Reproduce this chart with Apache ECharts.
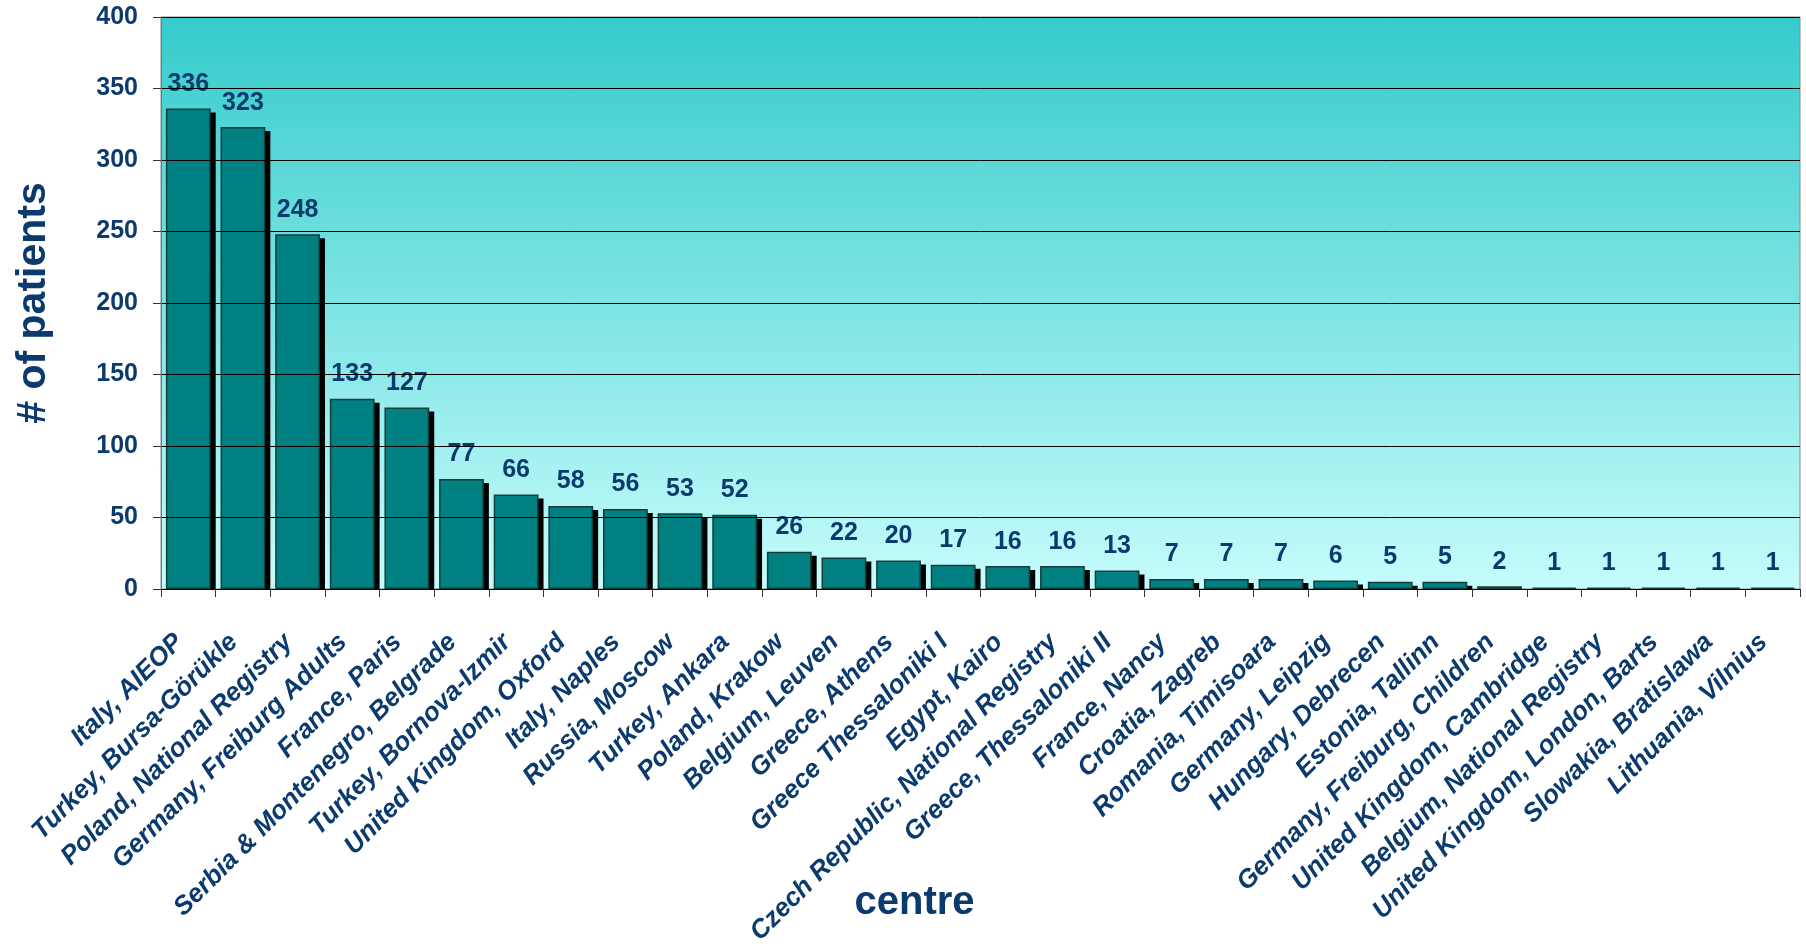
<!DOCTYPE html>
<html>
<head>
<meta charset="utf-8">
<script src="https://cdn.jsdelivr.net/npm/echarts@6/dist/echarts.min.js"></script>
<style>
html,body{margin:0;padding:0;background:#fff;}
#chart{width:1806px;height:948px;}
</style>
</head>
<body>
<div id="chart"></div>
<script>
const categories = [
  'Italy, AIEOP',
  'Turkey, Bursa-Görükle',
  'Poland, National Registry',
  'Germany, Freiburg Adults',
  'France, Paris',
  'Serbia & Montenegro, Belgrade',
  'Turkey, Bornova-Izmir',
  'United Kingdom, Oxford',
  'Italy, Naples',
  'Russia, Moscow',
  'Turkey, Ankara',
  'Poland, Krakow',
  'Belgium, Leuven',
  'Greece, Athens',
  'Greece Thessaloniki I',
  'Egypt, Kairo',
  'Czech Republic, National Registry',
  'Greece, Thessaloniki II',
  'France, Nancy',
  'Croatia, Zagreb',
  'Romania, Timisoara',
  'Germany, Leipzig',
  'Hungary, Debrecen',
  'Estonia, Tallinn',
  'Germany, Freiburg, Children',
  'United Kingdom, Cambridge',
  'Belgium, National Registry',
  'United Kingdom, London, Barts',
  'Slowakia, Bratislawa',
  'Lithuania, Vilnius'
];
const patients = [336, 323, 248, 133, 127, 77, 66, 58, 56, 53, 52, 26, 22, 20, 17, 16, 16, 13, 7, 7, 7, 6, 5, 5, 2, 1, 1, 1, 1, 1];
const yTicks = [0, 50, 100, 150, 200, 250, 300, 350, 400];

const navy = '#0b3a6e';
const font = "'Liberation Sans', Arial, sans-serif";
const BAR_RATIO = 0.82;

const chart = echarts.init(document.getElementById('chart'), null, {renderer: 'canvas'});
chart.setOption({
  animation: false,
  grid: {
    left: 161, right: 6, top: 17, bottom: 359,
    outerBoundsMode: 'none',
    containLabel: false,
    show: true,
    borderColor: '#8a8a8a',
    borderWidth: 1,
    backgroundColor: {
      type: 'linear', x: 0, y: 0, x2: 0, y2: 1,
      colorStops: [
        {offset: 0, color: '#35cbcb'},
        {offset: 1, color: '#c6fcfc'}
      ]
    }
  },
  xAxis: {
    type: 'category',
    data: categories,
    z: 10,
    name: 'centre',
    nameLocation: 'middle',
    nameGap: 294,
    nameMoveOverlap: false,
    nameTextStyle: {
      fontFamily: font, fontWeight: 'bold', fontSize: 40, color: navy,
      padding: [0, 132, 0, 0]
    },
    axisLine: {lineStyle: {color: '#000', width: 1}},
    axisTick: {show: true, length: 8, lineStyle: {color: '#333'}},
    axisLabel: {
      interval: 0,
      rotate: 45,
      margin: 40,
      padding: [0, 13, 0, 0],
      fontFamily: font,
      fontStyle: 'italic',
      fontWeight: 'bold',
      fontSize: 26,
      color: navy
    },
    splitLine: {show: false}
  },
  yAxis: {
    type: 'value',
    min: yTicks[0],
    max: yTicks[yTicks.length - 1],
    interval: yTicks[1] - yTicks[0],
    z: 10,
    name: '# of patients',
    nameLocation: 'middle',
    nameGap: 107,
    nameRotate: 90,
    nameMoveOverlap: false,
    nameTextStyle: {fontFamily: font, fontWeight: 'bold', fontSize: 41, color: navy},
    axisLine: {show: true, lineStyle: {color: '#777', width: 1}},
    axisTick: {show: true, length: 8, lineStyle: {color: '#333'}},
    axisLabel: {
      margin: 23,
      fontFamily: font,
      fontWeight: 'bold',
      fontSize: 25,
      color: navy
    },
    splitLine: {show: true, lineStyle: {color: '#000', width: 1}}
  },
  series: [
    {
      type: 'custom',
      name: 'shadow',
      z: 1,
      silent: true,
      data: patients.map((v, i) => [i, v]),
      renderItem: function (params, api) {
        const base = api.coord([api.value(0), 0]);
        const top = api.coord([api.value(0), api.value(1)]);
        const w = api.size([1, 0])[0] * BAR_RATIO;
        const h = Math.max(0, base[1] - top[1] - 4);
        return {
          type: 'rect',
          shape: {x: base[0] - w / 2 + 5, y: base[1] - h, width: w, height: h},
          style: {fill: '#000'}
        };
      }
    },
    {
      type: 'bar',
      name: 'patients',
      z: 2,
      data: patients,
      barWidth: (BAR_RATIO * 100) + '%',
      itemStyle: {color: '#008080', borderColor: '#173c3c', borderWidth: 1.5},
      label: {
        show: true,
        position: 'top',
        distance: 12,
        fontFamily: font,
        fontWeight: 'bold',
        fontSize: 25,
        color: navy
      }
    }
  ]
});
</script>
</body>
</html>
